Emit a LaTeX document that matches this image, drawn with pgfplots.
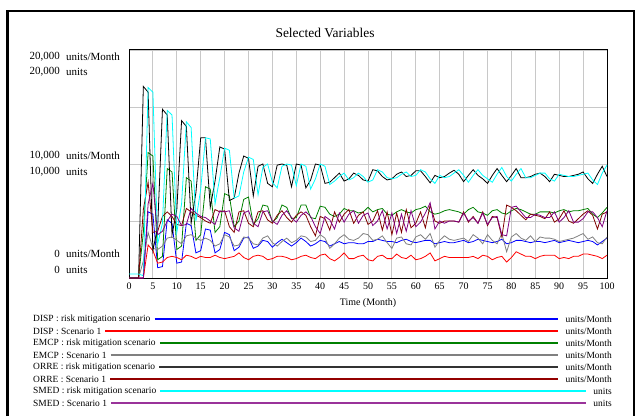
\documentclass[border=0pt]{standalone}
\usepackage{pgfplots}
\pgfplotsset{compat=1.18}
\usepackage{pgfplotstable}
\usepackage{fontspec}
\setmainfont{Liberation Serif}

\definecolor{cblue}{RGB}{0,0,255}
\definecolor{cred}{RGB}{255,0,0}
\definecolor{cgreen}{RGB}{0,128,0}
\definecolor{cgray}{RGB}{128,128,128}
\definecolor{cblack}{RGB}{0,0,0}
\definecolor{cmaroon}{RGB}{128,0,0}
\definecolor{ccyan}{RGB}{0,255,255}
\definecolor{cpurple}{RGB}{128,0,128}
\definecolor{cgrid}{RGB}{200,200,200}

\newcommand\fs[1]{\fontsize{#1}{#1}\selectfont}

% t, DISP risk, DISP S1, EMCP risk, EMCP S1, ORRE risk, ORRE S1, SMED risk, SMED S1
\pgfplotstableread{
t dispr disps emcpr emcps orrer orres smedr smeds
0 0 0 0 0 0 0 350 0
1 0 0 0 0 0 0 350 0
2 0 0 0 0 0 0 350 0
3 0 0 4000 1500 16800 6000 200 0
4 5800 2900 11000 4000 16300 8400 16700 6500
5 5600 2400 10700 2600 2400 4000 16300 8300
6 900 1300 1600 2500 4500 4100 3000 3800
7 1000 1400 1900 2800 14800 5400 4800 4100
8 5100 1800 9600 3500 14300 5800 14700 5000
9 4800 1900 9300 3600 3800 5400 14300 5600
10 1300 1800 2500 3300 6000 4700 4000 5400
11 1400 1600 2800 3000 13800 4600 6500 4600
12 4800 2000 8800 3700 13300 6100 13700 4700
13 4600 1900 8500 3800 4800 5800 13200 6100
14 2200 1700 3300 3500 7500 5500 5000 5700
15 2400 1900 3800 3300 12300 5300 7800 5400
16 4300 1800 8000 3500 12300 5000 12300 5300
17 4200 1800 7800 3300 6200 4800 12200 5000
18 2200 2000 4000 2800 8500 6000 6500 4700
19 2500 1800 4500 3000 11500 5800 8800 5900
20 4000 1700 7400 3800 11300 5900 11400 5800
21 3800 1800 7200 3600 6800 4500 11200 5900
22 2400 1900 4500 2800 7000 4000 7000 4400
23 2700 2200 5000 2900 9200 5800 7200 4100
24 3500 1800 6900 3600 10700 5900 9300 5700
25 3600 1600 7100 3500 10500 4800 10600 5900
26 2600 1900 4700 3000 7200 4500 10400 4800
27 2800 2000 5200 2900 9800 5800 7300 4500
28 3300 1900 6400 3500 10000 5900 9700 5800
29 3200 1600 6300 3700 8300 5100 10000 5900
30 2700 1700 4900 3100 8000 4800 8400 5000
31 3100 1900 5300 2800 9900 5500 7900 4700
32 3400 1900 6400 3200 10000 5900 9800 5500
33 3100 1800 6200 3500 9900 5300 10000 5900
34 2800 1600 5200 3100 8000 4900 9900 5300
35 3100 1700 5300 3300 10000 5500 8100 4900
36 3500 1900 6400 3700 9900 5800 10000 5500
37 3200 2000 6400 3600 7900 5500 9800 5800
38 2800 1800 5300 3200 8600 4500 7800 5400
39 3000 1700 5200 3300 10000 3700 8700 4500
40 3300 2000 6300 3800 9900 5400 10000 3900
41 3200 2100 6200 3500 8300 5200 9800 5400
42 2800 1700 5600 2600 8400 4200 8200 5100
43 3000 1500 5400 3000 8800 5800 8500 4300
44 3200 1800 5600 3500 9200 4900 8900 5700
45 3000 2200 6100 3800 8500 5600 9200 4900
46 3100 1700 5900 3400 8700 6000 8600 5600
47 3100 1700 5900 3300 9200 4800 8800 5900
48 3000 1900 5700 3500 9000 5500 9200 4800
49 3000 2000 5800 3900 8600 5800 8900 5500
50 3200 1600 6200 3800 8500 4700 8400 5700
51 3200 1500 5800 3300 9500 5000 8600 4600
52 3400 1900 6000 3400 9400 5900 9500 5000
53 3300 2000 6100 3700 8900 4200 9300 5900
54 3200 1700 5600 3100 8600 5800 8800 4300
55 3200 1700 5500 2600 8700 3800 8700 5700
56 3100 2100 5800 3500 9100 5700 8800 3900
57 3300 1800 6000 3600 9300 4000 9100 5600
58 3400 1700 5800 3000 8900 6000 9300 4100
59 3200 2000 5700 2900 9000 4400 8900 5900
60 3100 1600 6000 3600 9400 4800 9000 4500
61 3200 1700 6100 3800 9400 5800 9500 4900
62 3300 1900 6300 3400 8900 4400 9300 5700
63 3300 2200 5800 3900 8350 6400 8700 6600
64 3000 1500 5600 2700 9000 5000 8300 4300
65 3100 1700 5700 3300 8800 4800 9000 5000
66 3200 1900 5900 3700 8900 5000 8800 4800
67 3100 1800 6000 3400 9200 5000 8900 5000
68 3100 1800 5900 3300 9450 5000 9200 5000
69 3200 1800 5800 3400 9100 4900 9500 4900
70 3300 1800 5600 3500 8450 5800 9000 5700
71 3100 1800 6000 3200 9000 4900 8400 5000
72 3200 1900 6200 3800 9500 5400 9000 5300
73 3400 1700 5800 3500 9000 4800 9500 4800
74 3300 2000 5700 3000 8700 5800 9000 5700
75 3200 1900 5500 3800 8300 4600 8700 4700
76 3100 1600 5900 3300 9000 5400 8400 5300
77 3200 1800 6000 3000 9600 5300 9100 5400
78 3400 1900 5700 3900 9000 3600 9700 3800
79 3000 1400 5600 2300 8450 6400 8900 3700
80 3100 1800 5900 3600 9000 6200 8500 6200
81 3300 2300 6100 3900 9600 5900 9100 6300
82 3300 2100 6000 3500 8800 5500 9600 5800
83 3200 1900 5800 3300 8800 5100 8800 5300
84 3100 1900 5600 3700 8900 5600 8800 5300
85 3200 1700 5600 3200 9100 5500 9000 5600
86 3200 1900 5800 3600 9200 5400 9200 5500
87 3100 2000 5800 3500 8900 5200 9200 5300
88 3200 2000 5800 3500 8450 5800 8700 5300
89 3300 2000 5700 3400 9100 4900 8500 5800
90 3100 1700 5900 3200 9000 5200 9100 4900
91 3200 1800 6000 3300 8900 5900 9000 5300
92 3300 1700 5800 3400 8900 5000 8900 5900
93 3200 1900 5900 3500 9000 4800 8900 4900
94 3100 1900 5900 3700 9100 5200 9000 4900
95 3200 2100 6000 3900 9300 5600 9100 5200
96 3300 2100 6100 3400 8700 5900 9200 5800
97 3200 2000 5600 3600 8300 5500 8600 5800
98 2900 1900 5300 3100 9100 4300 8200 5300
99 3200 1700 5700 3000 9800 5600 9200 4500
100 3500 2000 6200 3600 8900 5800 9900 5900
}\vars

\newcommand{\legrow}[4]{%
  \node[anchor=west, inner sep=0, font=\fs{9.5}] (L) at (33,#1) {#2};
  \node[anchor=east, inner sep=0, font=\fs{9.5}] (U) at (612,#1) {#3};
  \draw[#4, line width=1.2bp] ([xshift=4bp]L.east) -- ([xshift=-7bp]U.west);
}

\begin{document}
\begin{tikzpicture}[x=1bp,y=1bp]
\path[use as bounding box] (0,0) rectangle (637,416);
\draw[line width=2.5bp] (7.5,0) -- (7.5,405) -- (634,405) -- (634,0);

\node[font=\fs{13.5}] at (325,383) {Selected Variables};

\begin{axis}[
  at={(129bp,138bp)}, anchor=south west,
  scale only axis, width=478bp, height=228bp,
  xmin=0, xmax=100, ymin=0, ymax=20000,
  xtick={0,5,...,100}, ytick={0,5000,...,20000}, yticklabels={},
  scaled y ticks=false,
  grid=major, grid style={cgrid, line width=0.9bp},
  major tick length=0,
  axis line style={black, line width=1bp},
  tick label style={font=\fs{10}},
  /pgf/number format/assume math mode=true,
  xticklabel style={yshift=-1bp},
  every axis plot/.append style={line width=0.8bp, mark=none},
]
\addplot[cblue]   table[x=t, y=dispr] {\vars};
\addplot[cred]    table[x=t, y=disps] {\vars};
\addplot[cgreen]  table[x=t, y=emcpr] {\vars};
\addplot[cgray]   table[x=t, y=emcps] {\vars};
\addplot[cblack]  table[x=t, y=orrer] {\vars};
\addplot[cmaroon] table[x=t, y=orres] {\vars};
\addplot[ccyan]   table[x=t, y=smedr] {\vars};
\addplot[cpurple] table[x=t, y=smeds] {\vars};
\end{axis}

% dual axis labels
\node[anchor=east, inner sep=0, font=\fs{11}] at (60,359) {20,000};
\node[anchor=west, inner sep=0, font=\fs{11}] at (66,359) {units/Month};
\node[anchor=east, inner sep=0, font=\fs{11}] at (60,344) {20,000};
\node[anchor=west, inner sep=0, font=\fs{11}] at (66,344) {units};
\node[anchor=east, inner sep=0, font=\fs{11}] at (60,260) {10,000};
\node[anchor=west, inner sep=0, font=\fs{11}] at (66,260) {units/Month};
\node[anchor=east, inner sep=0, font=\fs{11}] at (60,244) {10,000};
\node[anchor=west, inner sep=0, font=\fs{11}] at (66,244) {units};
\node[anchor=east, inner sep=0, font=\fs{11}] at (60,162) {0};
\node[anchor=west, inner sep=0, font=\fs{11}] at (66,162) {units/Month};
\node[anchor=east, inner sep=0, font=\fs{11}] at (60,146) {0};
\node[anchor=west, inner sep=0, font=\fs{11}] at (66,146) {units};

\node[font=\fs{10}] at (368,113) {Time (Month)};

\legrow{97}{DISP : risk mitigation scenario}{units/Month}{cblue}
\legrow{85}{DISP : Scenario 1}{units/Month}{cred}
\legrow{73}{EMCP : risk mitigation scenario}{units/Month}{cgreen}
\legrow{61}{EMCP : Scenario 1}{units/Month}{cgray}
\legrow{49}{ORRE : risk mitigation scenario}{units/Month}{black!80}
\legrow{37}{ORRE : Scenario 1}{units/Month}{cmaroon!85!red}
\legrow{25}{SMED : risk mitigation scenario}{units}{ccyan}
\legrow{13}{SMED : Scenario 1}{units}{cpurple!80!white}
\end{tikzpicture}
\end{document}
